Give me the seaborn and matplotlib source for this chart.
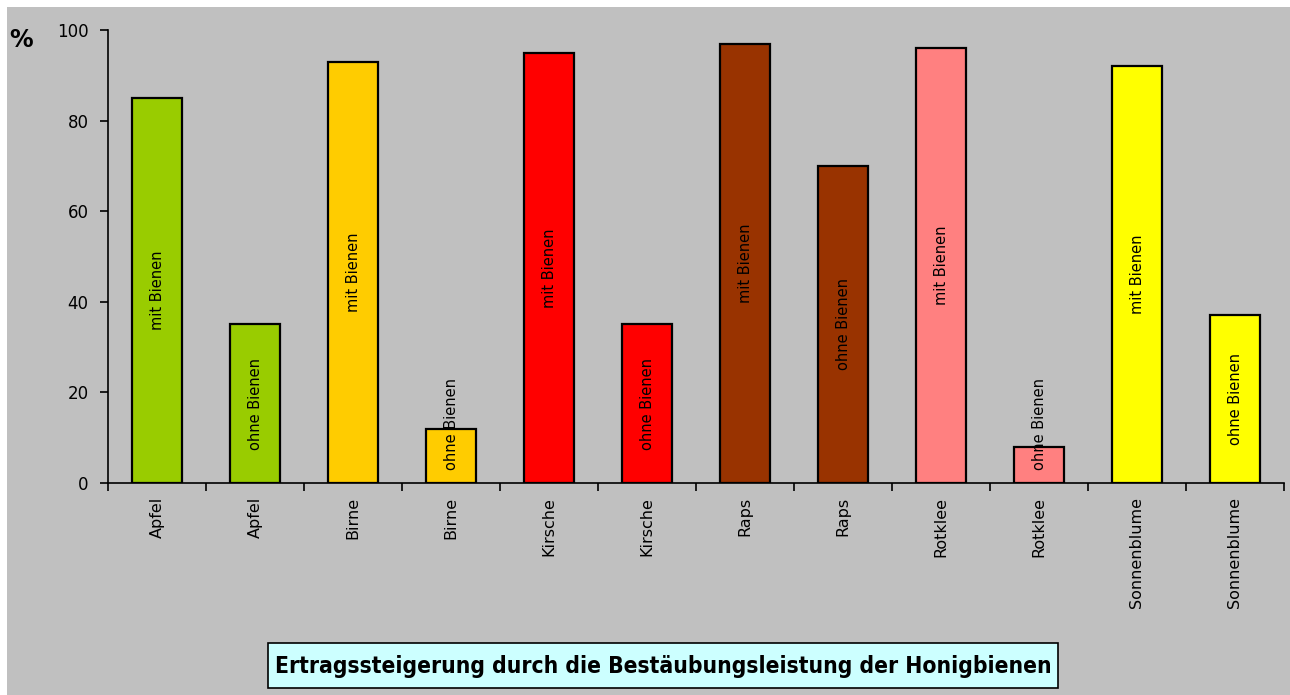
#!/usr/bin/env python3
"""Ertragssteigerung durch Bienen - bar chart remake."""

import matplotlib
matplotlib.use("Agg")
import matplotlib.pyplot as plt
import pandas as pd
import seaborn as sns
from matplotlib.patches import Rectangle

crops = ["Apfel", "Birne", "Kirsche", "Raps", "Rotklee", "Sonnenblume"]
with_bees = [85, 93, 95, 97, 96, 92]
without_bees = [35, 12, 35, 70, 8, 37]
crop_colors = ["#99CC00", "#FFCC00", "#FF0000", "#993300", "#FF8080", "#FFFF00"]
bar_labels = ["mit Bienen", "ohne Bienen"]
y_ticks = [0, 20, 40, 60, 80, 100]
title = "Ertragssteigerung durch die Bestäubungsleistung der Honigbienen"

GRAY = "#C0C0C0"

rows = []
for crop, mit, ohne, col in zip(crops, with_bees, without_bees, crop_colors):
    rows.append({"key": f"{crop} mit", "crop": crop, "value": mit, "label": bar_labels[0], "color": col})
    rows.append({"key": f"{crop} ohne", "crop": crop, "value": ohne, "label": bar_labels[1], "color": col})
df = pd.DataFrame(rows)

sns.set_theme(style="ticks")
plt.rcParams["font.family"] = ["DejaVu Sans"]
plt.rcParams["text.color"] = "black"
plt.rcParams["xtick.color"] = "black"
plt.rcParams["ytick.color"] = "black"

fig = plt.figure(figsize=(12.9, 6.95), dpi=100, facecolor="white")
fig.patches.append(Rectangle((7 / 1290, 0), 1, 1 - 7 / 695, transform=fig.transFigure,
                             facecolor=GRAY, edgecolor="none", zorder=-10))

ax = fig.add_axes([108 / 1290, 1 - 483 / 695, (1284 - 108) / 1290, (483 - 30) / 695])
ax.set_facecolor(GRAY)

sns.barplot(data=df, x="key", y="value", hue="key", palette=list(df["color"]),
            order=list(df["key"]), width=0.51, dodge=False, legend=False,
            edgecolor="black", linewidth=1.6, saturation=1, ax=ax)

# in-bar labels, kept above the axis for short bars
for i, row in df.iterrows():
    ypos = max(row["value"] / 2, 13)
    ax.text(i, ypos, row["label"], rotation=90, ha="center", va="center",
            fontsize=10.5, color="black")

ax.set_xlim(-0.5, len(df) - 0.5)
ax.set_ylim(0, 100)
ax.set_yticks(y_ticks)
ax.set_yticklabels([str(t) for t in y_ticks], fontsize=12)

ax.set_xticks([i - 0.5 for i in range(len(df) + 1)])
ax.set_xticklabels([])
ax.set_xticks(range(len(df)), minor=True)
ax.set_xticklabels(list(df["crop"]), minor=True, rotation=90, fontsize=11.5, va="top")
ax.tick_params(axis="x", which="major", bottom=True, direction="out", length=6,
               width=1.2, color="black")
ax.tick_params(axis="x", which="minor", bottom=True, length=0, pad=10)
ax.tick_params(axis="y", left=True, direction="out", length=6, width=1.2,
               color="black", pad=8)

ax.set_xlabel("")
ax.set_ylabel("")
sns.despine(ax=ax)
for side in ("left", "bottom"):
    ax.spines[side].set_color("black")
    ax.spines[side].set_linewidth(1.2)

fig.text(0.007, 1 - 40 / 695, "%", fontsize=17, fontweight="bold", ha="left", va="center")

fig.patches.append(Rectangle((268 / 1290, 1 - 688 / 695), (1058 - 268) / 1290, 45 / 695,
                             transform=fig.transFigure, facecolor="#CCFFFF",
                             edgecolor="black", linewidth=1.2, zorder=5))
fig.text(663 / 1290, 1 - 666 / 695, title, ha="center", va="center", fontsize=16.4,
         fontweight="bold", fontstretch="condensed",
         family=["DejaVu Sans"], zorder=6)

fig.savefig("out.png", dpi=100, facecolor=fig.get_facecolor())
